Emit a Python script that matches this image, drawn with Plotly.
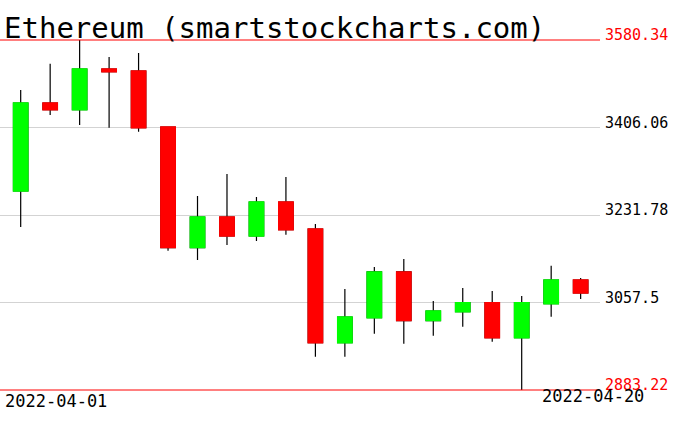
import plotly.graph_objects as go
import pandas as pd

# ---- data ----
dates = pd.date_range("2022-04-01", "2022-04-20", freq="D").strftime("%Y-%m-%d").tolist()
opens  = [3279.6, 3454.9, 3441.5, 3522.6, 3518.6, 3407.1, 3166.7, 3227.8, 3190.0, 3257.7,
          3203.9, 2977.4, 3027.2, 3118.3, 3021.3, 3039.2, 3057.1, 2987.4, 3055.1, 3102.3]
highs  = [3480.8, 3533.1, 3580.34, 3546.5, 3554.5, 3408.0, 3269.6, 3313.4, 3267.6, 3307.5,
          3213.9, 3084.4, 3128.2, 3144.2, 3060.5, 3086.4, 3080.4, 3070.5, 3130.8, 3106.3]
lows   = [3207.9, 3431.0, 3411.0, 3405.7, 3397.7, 3160.7, 3142.2, 3172.0, 3180.0, 3192.6,
          2949.6, 2949.6, 2995.4, 2975.4, 2991.4, 3009.3, 2979.4, 2883.22, 3029.2, 3064.5]
closes = [3454.9, 3441.5, 3522.6, 3517.2, 3405.7, 3166.7, 3227.8, 3190.0, 3257.7, 3202.5,
          2977.4, 3028.6, 3118.3, 3021.3, 3040.6, 3057.1, 2987.4, 3057.1, 3102.3, 3076.4]
price_ticks = [2883.22, 3057.5, 3231.78, 3406.06, 3580.34]
price_labels = ["2883.22", "3057.5", "3231.78", "3406.06", "3580.34"]
title_text = "Ethereum (smartstockcharts.com)"
first_label, last_label = dates[0], dates[-1]

GREEN, RED = "#00ff00", "#ff0000"
MONO = "DejaVu Sans Mono"

# ---- layout helpers (pixel geometry) ----
W, H = 676, 431
ML, MR, MT, MB = 0, 76, 20, 21
PW, PH = W - ML - MR, H - MT - MB
px_per_val = 350 / (price_ticks[-1] - price_ticks[0])
y_top = price_ticks[-1] + (40 - MT) / px_per_val
y_bot = price_ticks[0] - (H - MB - 390) / px_per_val

def pxx(p):
    return (p - ML) / PW

def pxy(p):
    return 1 - (p - MT) / PH

d0 = pd.Timestamp(dates[0])
x_lo = d0 - pd.Timedelta(days=0.702)
x_hi = d0 + pd.Timedelta(days=19.657)

body_hi = [max(o, c) for o, c in zip(opens, closes)]
body_lo = [min(o, c) for o, c in zip(opens, closes)]

fig = go.Figure()
# wicks (black)
fig.add_trace(go.Candlestick(
    x=dates, open=opens, high=highs, low=lows, close=closes,
    increasing=dict(line=dict(color="black", width=1.2), fillcolor="black"),
    decreasing=dict(line=dict(color="black", width=1.2), fillcolor="black"),
    showlegend=False, hoverinfo="skip"))
# colored bodies on top
fig.add_trace(go.Candlestick(
    x=dates, open=opens, high=body_hi, low=body_lo, close=closes,
    increasing=dict(line=dict(color=GREEN, width=1.4), fillcolor=GREEN),
    decreasing=dict(line=dict(color=RED, width=1.4), fillcolor=RED),
    showlegend=False))

shapes = []
for v in (price_ticks[0], price_ticks[-1]):
    shapes.append(dict(type="line", xref="paper", x0=0, x1=1, yref="y", y0=v, y1=v,
                       line=dict(color=RED, width=1), layer="above"))

annotations = []
for i, (v, lab) in enumerate(zip(price_ticks, price_labels)):
    col = RED if i in (0, len(price_ticks) - 1) else "black"
    annotations.append(dict(text=lab, xref="paper", x=pxx(603), xanchor="left",
                            yref="y", y=v, yanchor="bottom", yshift=-6,
                            showarrow=False, font=dict(family=MONO, size=15, color=col)))
annotations.append(dict(text=title_text, xref="paper", x=pxx(2), xanchor="left",
                        yref="paper", y=pxy(28), yanchor="middle", showarrow=False,
                        font=dict(family=MONO, size=29, color="black")))
annotations.append(dict(text=first_label, xref="paper", x=pxx(3), xanchor="left",
                        yref="paper", y=pxy(401), yanchor="middle", showarrow=False,
                        font=dict(family=MONO, size=17, color="black")))
annotations.append(dict(text=last_label, xref="paper", x=pxx(540), xanchor="left",
                        yref="paper", y=pxy(396), yanchor="middle", showarrow=False,
                        font=dict(family=MONO, size=17, color="black")))

fig.update_layout(
    width=W, height=H,
    margin=dict(l=ML, r=MR, t=MT, b=MB),
    paper_bgcolor="white", plot_bgcolor="white",
    xaxis=dict(type="date", range=[x_lo, x_hi], visible=False, rangeslider=dict(visible=False),
               fixedrange=True),
    yaxis=dict(range=[y_bot, y_top], tickvals=price_ticks[1:-1], showticklabels=False,
               showgrid=True, gridcolor="#d3d3d3", gridwidth=1, zeroline=False, showline=False,
               ticks="", fixedrange=True),
    shapes=shapes, annotations=annotations,
)

fig.write_html("out.html", config={"displayModeBar": False},
               post_script="document.body.style.margin='0';")
